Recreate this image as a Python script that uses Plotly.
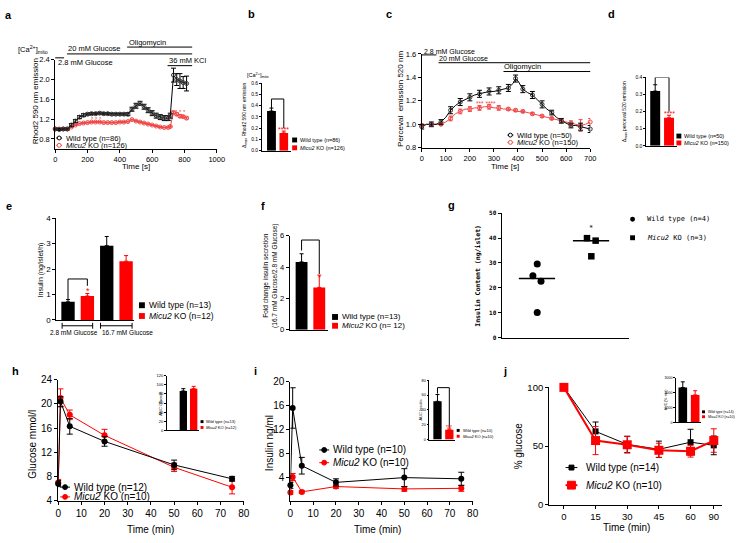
import numpy as np
import plotly.graph_objects as go

W, H = 745, 543
FONT = "Arial, Liberation Sans, Helvetica, sans-serif"
MONO = "DejaVu Sans Mono, monospace"
RED = "#ff0000"
PINK = "#f04848"

# ---------------- data ----------------
# a: mitochondrial Ca2+ (Rhod2)
a_time = [0, 25, 50, 75, 100, 125, 150, 175, 200, 225, 250, 275, 300, 325, 350, 375, 400, 425,
          450, 475, 500, 525, 550, 575, 600, 625, 650, 675, 700, 712, 732, 752, 772, 792, 813]
a_wt = [1.0, 0.99, 1.0, 1.0, 1.08, 1.16, 1.24, 1.28, 1.30, 1.31, 1.31, 1.32, 1.31, 1.31, 1.30, 1.30,
        1.30, 1.30, 1.30, 1.40, 1.47, 1.52, 1.45, 1.38, 1.32, 1.27, 1.24, 1.22, 1.22, 1.27, 2.09,
        2.00, 1.97, 1.94, 1.92]
a_wt_err = [0.02, 0.02, 0.02, 0.02, 0.03, 0.03, 0.03, 0.03, 0.02, 0.02, 0.02, 0.02, 0.02, 0.02,
            0.02, 0.02, 0.02, 0.02, 0.03, 0.04, 0.05, 0.04, 0.05, 0.05, 0.05, 0.05, 0.05, 0.05,
            0.05, 0.05, 0.14, 0.12, 0.15, 0.12, 0.15]
a_ko = [1.0, 1.0, 1.0, 1.0, 1.04, 1.08, 1.11, 1.12, 1.13, 1.14, 1.14, 1.14, 1.13, 1.13, 1.13, 1.13,
        1.14, 1.14, 1.15, 1.19, 1.16, 1.14, 1.12, 1.10, 1.08, 1.06, 1.04, 1.03, 1.03, 1.05, 1.33,
        1.30, 1.26, 1.25, 1.22]
a_ko_err = [0.01, 0.01, 0.01, 0.01, 0.01, 0.01, 0.01, 0.01, 0.01, 0.01, 0.01, 0.01, 0.01, 0.01,
            0.01, 0.01, 0.01, 0.01, 0.01, 0.01, 0.01, 0.01, 0.01, 0.01, 0.01, 0.01, 0.01, 0.01,
            0.01, 0.01, 0.03, 0.03, 0.03, 0.02, 0.02]
a_xticks = [0, 200, 400, 600, 800, 1000]
a_yticks = [0.8, 1.2, 1.6, 2.0, 2.4]
a_ytext = ["0.8", "1.2", "1.6", "2.0", "2.4"]

# b: delta max Rhod2
b_values = [0.353, 0.158]
b_errors = [0.026, 0.017]
b_yticks = [0.0, 0.1, 0.2, 0.3, 0.4, 0.5, 0.6]

# c: Perceval (ATP/ADP)
c_time = [0, 20, 40, 60, 80, 100, 120, 140, 160, 180, 200, 220, 240, 260, 280, 300, 320, 340, 360,
          380, 390, 400, 420, 440, 460, 480, 500, 520, 540, 560, 580, 600, 620, 640, 660, 680, 700]
c_wt = [0.98, 1.0, 1.0, 1.0, 1.02, 1.06, 1.12, 1.16, 1.19, 1.21, 1.23, 1.25, 1.26, 1.27, 1.28, 1.28,
        1.29, 1.30, 1.31, 1.35, 1.39, 1.37, 1.30, 1.27, 1.25, 1.21, 1.17, 1.13, 1.10, 1.06, 1.03,
        1.01, 0.99, 0.99, 0.98, 0.97, 0.96]
c_wt_err = [0.02, 0.02, 0.02, 0.02, 0.02, 0.03, 0.03, 0.03, 0.03, 0.03, 0.03, 0.03, 0.03, 0.03,
            0.03, 0.03, 0.03, 0.03, 0.03, 0.03, 0.03, 0.03, 0.03, 0.03, 0.03, 0.03, 0.03, 0.03,
            0.02, 0.02, 0.02, 0.02, 0.02, 0.02, 0.03, 0.03, 0.03]
c_ko = [0.99, 1.0, 1.0, 1.0, 1.0, 1.02, 1.05, 1.09, 1.11, 1.13, 1.13, 1.14, 1.14, 1.15, 1.15, 1.14,
        1.14, 1.13, 1.13, 1.12, 1.12, 1.11, 1.11, 1.10, 1.09, 1.08, 1.07, 1.06, 1.05, 1.04, 1.03,
        1.02, 1.01, 1.0, 0.99, 1.0, 1.02]
c_ko_err = [0.01, 0.01, 0.01, 0.01, 0.01, 0.01, 0.02, 0.02, 0.02, 0.02, 0.02, 0.02, 0.02, 0.02,
            0.02, 0.02, 0.02, 0.01, 0.01, 0.01, 0.01, 0.01, 0.01, 0.01, 0.01, 0.01, 0.01, 0.01,
            0.01, 0.01, 0.01, 0.01, 0.02, 0.03, 0.05, 0.04, 0.03]
c_xticks = [0, 100, 200, 300, 400, 500, 600, 700]
c_yticks = [0.8, 1.0, 1.2, 1.4, 1.6]
c_ytext = ["0.8", "1.0", "1.2", "1.4", "1.6"]

# d: delta max Perceval
d_values = [0.32, 0.164]
d_errors = [0.037, 0.015]
d_yticks = [0.0, 0.1, 0.2, 0.3, 0.4]

# e: insulin secretion
e_wt = [0.71, 2.92]
e_wt_err = [0.09, 0.36]
e_ko = [0.94, 2.31]
e_ko_err = [0.10, 0.22]
e_groups = ["2.8 mM Glucose", "16.7 mM Glucose"]
e_yticks = [0, 1, 2, 3, 4]

# f: fold change
f_values = [4.33, 2.70]
f_errors = [0.52, 0.79]
f_yticks = [0, 2, 4, 6]

# g: insulin content
g_wt = [29.6, 24.9, 22.6, 10.1]
g_wt_jitter = [0.0, -0.08, 0.07, 0.0]
g_ko = [40.0, 39.0, 32.7]
g_ko_jitter = [-0.08, 0.08, 0.0]
g_yticks = [0, 10, 20, 30, 40, 50]

# h: IPGTT glucose
h_time = [0, 1, 5, 20, 50, 75]
h_wt = [6.8, 20.4, 16.3, 13.8, 9.9, 7.6]
h_wt_err = [0.5, 0.8, 1.3, 0.8, 0.8, 0.4]
h_ko = [7.0, 21.0, 18.2, 14.8, 9.5, 6.2]
h_ko_err = [0.5, 1.5, 0.8, 1.0, 0.7, 1.1]
h_auc = [86.5, 91.5]
h_auc_err = [5.0, 5.0]

# i: insulin in vivo
i_time = [0, 1, 5, 20, 50, 75]
i_wt = [2.6, 15.6, 5.9, 3.1, 3.9, 3.7]
i_wt_err = [0.5, 3.4, 1.4, 0.6, 1.5, 1.1]
i_ko = [1.4, 4.0, 1.5, 2.4, 2.0, 2.1]
i_ko_err = [0.3, 0.6, 0.2, 0.3, 0.4, 0.5]
i_auc = [51.5, 13.2]
i_auc_err = [9.2, 2.2]

# j: insulin tolerance test
j_labels = ["0", "15", "30", "45", "60", "90"]
j_pos = [0, 15, 30, 45, 60, 71]
j_wt = [100, 62.5, 51.4, 47.2, 53.3, 50.6]
j_wt_err = [0, 8, 7, 7, 11, 8]
j_ko = [100, 54.7, 51.1, 46.4, 45.6, 54.7]
j_ko_err = [0, 12, 7, 6, 5, 10]
j_auc = [2336, 1839]
j_auc_err = [380, 280]

# ---------------- helpers ----------------
fig = go.Figure()
axes = {}
annotations = []
shapes = []
counter = [0]


def PX(x):
    return x / W


def PY(y):
    return 1 - y / H


def make_axes(x0, x1, ytop, ybot, xr, yr, xticks=None, xtext=None, yticks=None, ytext=None,
              fs=8, family=FONT, ticklen=3):
    counter[0] += 1
    n = counter[0]
    s = "" if n == 1 else str(n)
    common = dict(showline=True, linecolor="black", linewidth=1, showgrid=False, zeroline=False,
                  ticks="outside", ticklen=ticklen, tickwidth=1, tickcolor="black",
                  tickfont=dict(size=fs, family=family, color="black"), fixedrange=True)
    xa = dict(common, domain=[PX(x0), PX(x1)], range=xr, anchor="y" + s)
    if xticks is None:
        xa.update(ticks="", showticklabels=False)
    else:
        xa.update(tickmode="array", tickvals=xticks,
                  ticktext=xtext if xtext is not None else [str(v) for v in xticks])
    ya = dict(common, domain=[PY(ybot), PY(ytop)], range=yr, anchor="x" + s, tickmode="array",
              tickvals=yticks, ticktext=ytext if ytext is not None else [str(v) for v in yticks])
    axes["xaxis" + s] = xa
    axes["yaxis" + s] = ya
    return "x" + s, "y" + s


def text(x, y, s, size=8, xanchor="center", yanchor="middle", angle=0, color="black",
         family=FONT):
    annotations.append(dict(x=PX(x), y=PY(y), xref="paper", yref="paper", text=s,
                            showarrow=False, xanchor=xanchor, yanchor=yanchor, textangle=angle,
                            font=dict(size=size, family=family, color=color), borderpad=0))


def line(x0, y0, x1, y1, color="black", w=1):
    shapes.append(dict(type="line", xref="paper", yref="paper", x0=PX(x0), x1=PX(x1),
                       y0=PY(y0), y1=PY(y1), line=dict(color=color, width=w)))


def leg_square(x, y, size, color, label, fs, family=FONT, gap=2):
    shapes.append(dict(type="rect", xref="paper", yref="paper", x0=PX(x - size / 2),
                       x1=PX(x + size / 2), y0=PY(y + size / 2), y1=PY(y - size / 2),
                       fillcolor=color, line=dict(width=0)))
    text(x + size / 2 + gap, y, label, size=fs, xanchor="left", family=family)


def leg_line(x, y, half, color, label, fs, msize=5, lw=1, shape="circle", fill=None, gap=3):
    line(x - half, y, x + half, y, color=color, w=lw)
    r = msize / 2
    shapes.append(dict(type=shape if shape == "circle" else "rect", xref="paper", yref="paper",
                       x0=PX(x - r), x1=PX(x + r), y0=PY(y + r), y1=PY(y - r),
                       fillcolor=fill if fill else color, line=dict(color=color, width=1)))
    text(x + half + gap, y, label, size=fs, xanchor="left")


def bracket(xa, ya, x1, x2, yl, yr, ytop, color="black"):
    shapes.append(dict(type="path", xref=xa, yref=ya,
                       path=f"M {x1},{yl} L {x1},{ytop} L {x2},{ytop} L {x2},{yr}",
                       line=dict(color=color, width=1)))


def err(arr, color, width=2, minus=None):
    d = dict(type="data", array=arr, color=color, thickness=1, width=width, visible=True)
    if minus is not None:
        d.update(symmetric=False, arrayminus=minus)
    return d


def bar(xa, ya, xs, vals, errs, color, width):
    fig.add_trace(go.Bar(x=xs, y=vals, width=width, marker=dict(color=color, line=dict(width=0)),
                         error_y=err(errs, color, width=2, minus=[0] * len(vals)),
                         xaxis=xa, yaxis=ya, cliponaxis=False, showlegend=False))


MICU = "<i>Micu2</i> KO"

# ---------------- panel a ----------------
xa, ya = make_axes(53, 217, 55, 146, [0, 1000], [0.6, 2.4], a_xticks, None, a_yticks, a_ytext,
                   fs=7.5)
fig.add_trace(go.Scatter(x=a_time, y=a_ko, mode="lines+markers", xaxis=xa, yaxis=ya,
                         line=dict(color=PINK, width=1),
                         marker=dict(symbol="circle-open", size=4, color=PINK, line=dict(width=1)),
                         error_y=err(a_ko_err, PINK, 2), cliponaxis=False))
fig.add_trace(go.Scatter(x=a_time, y=a_wt, mode="lines+markers", xaxis=xa, yaxis=ya,
                         line=dict(color="black", width=1),
                         marker=dict(symbol="circle-open-dot", size=4, color="#333",
                                     line=dict(width=1)),
                         error_y=err(a_wt_err, "black", 2.5), cliponaxis=False))
text(33, 98, "Rhod2 590 nm emission", size=8, angle=-90)
text(135, 164, "Time [s]", size=8)
text(14, 44, "[Ca<sup>2+</sup>]<sub>mito</sub>", size=7.5, xanchor="left")
line(126, 42, 192, 42)
text(127, 42.5, "Oligomycin", size=7.5, xanchor="left", yanchor="bottom")
line(65, 49, 192, 49)
text(65, 49.5, "20 mM Glucose", size=7.5, xanchor="left", yanchor="bottom")
line(53, 53, 62, 53)
text(55, 58, "2.8 mM Glucose", size=7.5, xanchor="left")
line(167, 61, 192, 61)
text(167, 61.5, "36 mM KCl", size=7.5, xanchor="left", yanchor="bottom")
text(95, 116, "* * *", size=6, color=PINK)
text(178, 108, "* * * *", size=6, color=PINK)
leg_line(57, 135, 3, "black", "Wild type (n=86)", 7.5, msize=4, fill="white")
leg_line(57, 142.5, 3, PINK, MICU + " (n=126)", 7.5, msize=4, fill="white")

# ---------------- panel b ----------------
xa, ya = make_axes(263, 292, 79, 148, [0.24, 2.56], [0, 0.6], None, None, b_yticks,
                   ["%.1f" % v for v in b_yticks], fs=5, ticklen=2)
bar(xa, ya, [1], [b_values[0]], [b_errors[0]], "black", 0.72)
bar(xa, ya, [2], [b_values[1]], [b_errors[1]], RED, 0.7)
bracket(xa, ya, 1, 2, 0.38, 0.2, 0.46)
text(285, 126, "****", size=7, color=RED)
leg_square(296, 137, 5, "black", "Wild type (n=86)", 5.5)
leg_square(296, 145, 5, RED, MICU + " (n=126)", 5.5)
text(245, 112, "Δ<sub>max</sub> Rhod2 590 nm emission", size=5, angle=-90)
text(247, 71, "[Ca<sup>2+</sup>]<sub>mito</sub>", size=5.5, xanchor="left")

# ---------------- panel c ----------------
xa, ya = make_axes(425, 596, 49, 145, [0, 700], [0.8, 1.6], c_xticks, None, c_yticks, c_ytext,
                   fs=7.5)
fig.add_trace(go.Scatter(x=c_time, y=c_ko, mode="lines", xaxis=xa, yaxis=ya,
                         line=dict(color=PINK, width=1), cliponaxis=False))
fig.add_trace(go.Scatter(x=c_time, y=c_wt, mode="lines", xaxis=xa, yaxis=ya,
                         line=dict(color="black", width=1), cliponaxis=False))
fig.add_trace(go.Scatter(x=c_time[::2], y=c_ko[::2], mode="markers", xaxis=xa, yaxis=ya,
                         marker=dict(symbol="circle-open", size=4, color=PINK, line=dict(width=1)),
                         error_y=err(c_ko_err[::2], PINK, 2), cliponaxis=False))
fig.add_trace(go.Scatter(x=c_time[::2], y=c_wt[::2], mode="markers", xaxis=xa, yaxis=ya,
                         marker=dict(symbol="circle-open", size=4, color="#333",
                                     line=dict(width=1)),
                         error_y=err(c_wt_err[::2], "black", 2.5), cliponaxis=False))
text(404, 95, "Perceval  emission 520 nm", size=8, angle=-90)
text(510, 164, "Time [s]", size=8)
line(425, 50, 440, 50)
text(426, 46.5, "2.8 mM Glucose", size=7, xanchor="left")
line(442, 58, 596, 58)
text(442, 58.5, "20 mM Glucose", size=7, xanchor="left", yanchor="bottom")
line(508, 67, 596, 67)
text(508, 67.5, "Oligomycin", size=7.5, xanchor="left", yanchor="bottom")
text(490, 100, "*** ****", size=6.5, color=PINK)
leg_line(515, 132, 3, "black", "Wild type (n=50)", 7.5, msize=4, fill="white")
leg_line(515, 139.5, 3, PINK, MICU + " (n=150)", 7.5, msize=4, fill="white")

# ---------------- panel d ----------------
xa, ya = make_axes(653, 684, 73, 143, [0.36, 2.57], [0, 0.4], None, None, d_yticks,
                   ["%.1f" % v for v in d_yticks], fs=5, ticklen=2)
bar(xa, ya, [1], [d_values[0]], [d_errors[0]], "black", 0.72)
bar(xa, ya, [2], [d_values[1]], [d_errors[1]], RED, 0.72)
bracket(xa, ya, 1, 2, 0.357, 0.2, 0.4)
text(676, 110, "****", size=7, color=RED)
leg_square(686, 133, 5, "black", "Wild type (n=50)", 5.5)
leg_square(686, 140, 5, RED, MICU + " (n=150)", 5.5)
text(631, 108, "Δ<sub>max</sub> perceval 520 emission", size=5, angle=-90)

# ---------------- panel e ----------------
xa, ya = make_axes(54, 133, 217, 321, [0.39, 4.41], [0, 4], None, None, e_yticks, None, fs=8)
bar(xa, ya, [1, 3], e_wt, e_wt_err, "black", 0.69)
bar(xa, ya, [2, 4], e_ko, e_ko_err, RED, 0.69)
bracket(xa, ya, 1, 2, 0.8, 1.34, 1.61)
text(86, 291, "*", size=9, color=RED)
for x0, x1, lab in [(60, 91, e_groups[0]), (99, 131, e_groups[1])]:
    line(x0, 327, x1, 327)
    line(x0, 324, x0, 330)
    line(x1, 324, x1, 330)
text(72, 334, e_groups[0], size=6.5)
text(126, 334, e_groups[1], size=6.5)
leg_square(141, 306, 6, "black", "Wild type (n=13)", 8.5, gap=3)
leg_square(141, 317, 6, RED, MICU + " (n=12)", 8.5, gap=3)
text(39, 270, "Insulin (ng/islet/h)", size=7, angle=-90)

# ---------------- panel f ----------------
xa, ya = make_axes(291, 330, 235, 331, [0.33, 2.5], [0, 6], None, None, f_yticks, None, fs=7.5)
bar(xa, ya, [1], [f_values[0]], [f_errors[0]], "black", 0.67)
bar(xa, ya, [2], [f_values[1]], [f_errors[1]], RED, 0.67)
bracket(xa, ya, 1, 2, 5.06, 3.56, 5.73)
text(321, 278, "*", size=8, color=RED)
leg_square(337, 318, 6, "black", "Wild type (n=13)", 8, gap=3)
leg_square(337, 327, 6, RED, MICU + " (n= 12)", 8, gap=3)
text(271, 276, "Fold change insulin secretion<br>(16.7 mM Glucose/2.8 mM Glucose)", size=6.5,
     angle=-90)

# ---------------- panel g ----------------
g_ticks_text = ["<b>%d</b>" % v for v in g_yticks]
xa, ya = make_axes(506, 635, 212, 339, [0.34, 2.69], [0, 50], None, None, g_yticks, g_ticks_text,
                   fs=6, family=MONO)
fig.add_trace(go.Scatter(x=[1 + j for j in g_wt_jitter], y=g_wt, mode="markers", xaxis=xa,
                         yaxis=ya, marker=dict(symbol="circle", size=7, color="black"),
                         cliponaxis=False))
fig.add_trace(go.Scatter(x=[2 + j for j in g_ko_jitter], y=g_ko, mode="markers", xaxis=xa,
                         yaxis=ya, marker=dict(symbol="square", size=6.5, color="black"),
                         cliponaxis=False))
for cx, vals in [(1, g_wt), (2, g_ko)]:
    m = float(np.median(vals))
    shapes.append(dict(type="line", xref=xa, yref=ya, x0=cx - 0.34, x1=cx + 0.33, y0=m, y1=m,
                       line=dict(color="black", width=1.5)))
text(597, 227, "*", size=7, family=MONO)
shapes.append(dict(type="circle", xref="paper", yref="paper", x0=PX(636.5), x1=PX(641.5),
                   y0=PY(220.5), y1=PY(215.5), fillcolor="black", line=dict(width=0)))
text(653, 218, "Wild type (n=4)", size=7, xanchor="left", family=MONO)
shapes.append(dict(type="rect", xref="paper", yref="paper", x0=PX(636.5), x1=PX(641.5),
                   y0=PY(239.5), y1=PY(234.5), fillcolor="black", line=dict(width=0)))
text(653, 237, "<i>Micu2</i> KO (n=3)", size=7, xanchor="left", family=MONO)
text(482, 276, "<b>Insulin Content (ng/islet)</b>", size=6.5, angle=-90, family=MONO)

# ---------------- panel h ----------------
xa, ya = make_axes(56, 244.3, 382.3, 505.7, [0, 80], [4, 24], list(range(0, 90, 10)), None,
                   [4, 8, 12, 16, 20, 24], None, fs=10)
fig.add_trace(go.Scatter(x=h_time, y=h_ko, mode="lines+markers", xaxis=xa, yaxis=ya,
                         line=dict(color=RED, width=1), marker=dict(size=6, color=RED),
                         error_y=err(h_ko_err, RED, 3), cliponaxis=False))
fig.add_trace(go.Scatter(x=h_time, y=h_wt, mode="lines+markers", xaxis=xa, yaxis=ya,
                         line=dict(color="black", width=1), marker=dict(size=6, color="black"),
                         error_y=err(h_wt_err, "black", 3), cliponaxis=False))
text(30, 448, "Glucose mmol/l", size=10, angle=-90)
text(150, 535, "Time (min)", size=10)
leg_line(63, 492, 5, "black", "Wild type (n=12)", 10, msize=5)
leg_line(63, 502, 5, RED, MICU + " (n=10)", 10, msize=5)
xa, ya = make_axes(166, 199, 378, 434, [-0.62, 2.52], [0, 120], None, None,
                   [0, 20, 40, 60, 80, 100, 120], None, fs=4, ticklen=1.5)
bar(xa, ya, [1], [h_auc[0]], [h_auc_err[0]], "black", 0.71)
bar(xa, ya, [2], [h_auc[1]], [h_auc_err[1]], RED, 0.71)
leg_square(202, 425, 3, "black", "Wild type (n=13)", 4)
leg_square(202, 431, 3, RED, MICU + " (n=12)", 4)
text(159, 406, "AUC Glucose", size=4, angle=-90)

# ---------------- panel i ----------------
xa, ya = make_axes(291.7, 476.7, 384.3, 506, [0, 80], [0, 20], list(range(0, 90, 10)), None,
                   [4, 8, 12, 16, 20], None, fs=10)
fig.add_trace(go.Scatter(x=i_time, y=i_ko, mode="lines+markers", xaxis=xa, yaxis=ya,
                         line=dict(color=RED, width=1), marker=dict(size=6, color=RED),
                         error_y=err(i_ko_err, RED, 3), cliponaxis=False))
fig.add_trace(go.Scatter(x=i_time, y=i_wt, mode="lines+markers", xaxis=xa, yaxis=ya,
                         line=dict(color="black", width=1), marker=dict(size=6, color="black"),
                         error_y=err(i_wt_err, "black", 3), cliponaxis=False))
text(270, 447, "Insulin ng/ml", size=10, angle=-90)
text(380, 535, "Time (min)", size=10)
leg_line(326, 454, 5, "black", "Wild type (n=10)", 10, msize=5)
leg_line(326, 467, 5, RED, MICU + " (n=10)", 10, msize=5)
xa, ya = make_axes(432.7, 458.3, 382.7, 443.3, [0.31, 2.44], [0, 80], None, None,
                   [0, 20, 40, 60, 80], None, fs=4, ticklen=1.5)
bar(xa, ya, [1], [i_auc[0]], [i_auc_err[0]], "black", 0.7)
bar(xa, ya, [2], [i_auc[1]], [i_auc_err[1]], RED, 0.7)
bracket(xa, ya, 1, 2, 62, 16, 70)
text(453, 431, "***", size=5, color=RED)
leg_square(462, 434, 3, "black", "Wild type (n=10)", 4)
leg_square(462, 440, 3, RED, MICU + " (n=10)", 4)
text(424, 413, "AUC Insulin", size=4, angle=-90)

# ---------------- panel j ----------------
xa, ya = make_axes(554.3, 730, 390, 510, [-7, 75], [0, 100], j_pos, j_labels, [0, 50, 100], None,
                   fs=9.5)
fig.add_trace(go.Scatter(x=j_pos, y=j_wt, mode="lines+markers", xaxis=xa, yaxis=ya,
                         line=dict(color="black", width=1),
                         marker=dict(symbol="square", size=6, color="black"),
                         error_y=err(j_wt_err, "black", 3), cliponaxis=False))
fig.add_trace(go.Scatter(x=j_pos, y=j_ko, mode="lines+markers", xaxis=xa, yaxis=ya,
                         line=dict(color=RED, width=2),
                         marker=dict(symbol="square", size=9, color=RED),
                         error_y=err(j_ko_err, RED, 3), cliponaxis=False))
text(523, 450, "% glucose", size=10, angle=-90)
text(633, 533, "Time (min)", size=10)
leg_line(577, 472, 6, "black", "Wild type (n=14)", 10, msize=5, shape="rect", gap=8)
leg_line(577, 490, 6, RED, MICU + " (n=10)", 10, msize=8, lw=2, shape="rect", gap=8)
xa, ya = make_axes(682.7, 708.3, 380, 425.7, [0.42, 2.46], [0, 3000], None, None,
                   [0, 1000, 2000, 3000], None, fs=3.5, ticklen=1.5)
bar(xa, ya, [1], [j_auc[0]], [j_auc_err[0]], "black", 0.7)
bar(xa, ya, [2], [j_auc[1]], [j_auc_err[1]], RED, 0.7)
leg_square(711, 415, 3, "black", "Wild type (n=14)", 3.5)
leg_square(711, 420, 3, RED, MICU + " (n=10)", 3.5)
text(673, 403, "AUC (%·min)", size=3.5, angle=-90)

# ---------------- panel labels ----------------
for lab, x, y in [("a", 6, 9), ("b", 252, 8), ("c", 392, 8), ("d", 618, 8), ("e", 6, 205),
                  ("f", 264, 205), ("g", 455, 204), ("h", 13, 373), ("i", 256, 373),
                  ("j", 510, 373)]:
    text(x, y, "<b>%s</b>" % lab, size=11)

fig.update_layout(width=W, height=H, margin=dict(l=0, r=0, t=0, b=0), paper_bgcolor="white",
                  plot_bgcolor="white", showlegend=False, barmode="overlay", hovermode=False,
                  font=dict(family=FONT, color="black"), annotations=annotations, shapes=shapes,
                  **axes)
fig.write_html("out.html", config={"displayModeBar": False, "staticPlot": True},
               post_script="document.body.style.margin='0px';"
                           "document.body.style.overflow='hidden';")
